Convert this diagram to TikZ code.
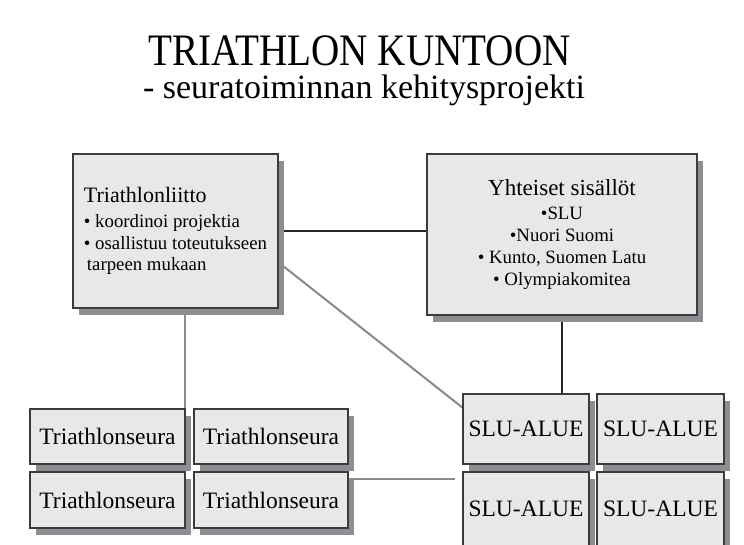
\documentclass[tikz,border=0pt]{standalone}
\usepackage{fontspec}
\usepackage{graphicx}
\setmainfont{Liberation Serif}
\usetikzlibrary{shadows,backgrounds}
\definecolor{boxfill}{HTML}{E8E8EA}
\definecolor{boxline}{HTML}{3C3C3C}
\definecolor{shadowgray}{HTML}{8E8E92}
\definecolor{graylinec}{HTML}{8A8A8A}
\begin{document}
\begin{tikzpicture}[x=1pt,y=-1pt,
  box/.style={draw=boxline, line width=1.1pt, fill=boxfill, inner sep=0pt, outer sep=0pt,
    drop shadow={shadow xshift=6pt, shadow yshift=-7pt, fill=shadowgray, opacity=1}},
  smallbox/.style={box, font=\fontsize{23.5}{27}\selectfont},
  graycon/.style={draw=graylinec, line width=2pt},
  blackcon/.style={draw=black!85, line width=2pt}]
\useasboundingbox (0,0) rectangle (744,544);

% titles
\node[anchor=base, inner sep=0pt] (title) at (359.5,65)
  {\fontsize{45}{50}\selectfont\scalebox{0.87}[1]{TRIATHLON KUNTOON}};
\node[anchor=base, inner sep=0pt] (subtitle) at (364,98)
  {\fontsize{34}{40}\selectfont - seuratoiminnan kehitysprojekti};

% main boxes
\node[box, minimum width=205, minimum height=154, align=left,
  font=\fontsize{18.8}{21.5}\selectfont] (liitto) at (175.5,231)
  {{\fontsize{22}{25}\selectfont Triathlonliitto}\\[3.5pt]
   • koordinoi projektia\\
   • osallistuu toteutukseen\\
   \hspace{3pt}tarpeen mukaan};
\node[box, minimum width=270, minimum height=161, align=center,
  font=\fontsize{18.8}{22.3}\selectfont] (yht) at (562,234.5)
  {{\fontsize{23}{26}\selectfont Yhteiset sisällöt}\\[1.7pt]
   •SLU\\
   •Nuori Suomi\\
   • Kunto, Suomen Latu\\
   • Olympiakomitea};

% clubs
\node[smallbox, minimum width=155, minimum height=55] (s11) at (107.5,436.5) {Triathlonseura};
\node[smallbox, minimum width=154, minimum height=55] (s12) at (271,436.5) {Triathlonseura};
\node[smallbox, minimum width=155, minimum height=56] (s21) at (107.5,500) {Triathlonseura};
\node[smallbox, minimum width=154, minimum height=56] (s22) at (271,500) {Triathlonseura};

% regions
\node[smallbox, minimum width=126, minimum height=70] (a11) at (526,429) {SLU-ALUE};
\node[smallbox, minimum width=127, minimum height=70] (a12) at (660.5,429) {SLU-ALUE};
\node[smallbox, minimum width=126, minimum height=74] (a21) at (526,509) {SLU-ALUE};
\node[smallbox, minimum width=127, minimum height=74] (a22) at (660.5,509) {SLU-ALUE};

% connectors (behind the boxes and their shadows)
\begin{scope}[on background layer]
  \fill[white] (0,0) rectangle (744,544);
  \draw[blackcon] (liitto.east) -- (liitto.east -| yht.west);
  \draw[blackcon] (yht.south) -- (yht.south |- a11.north);
  \draw[graycon] ([yshift=-31pt]liitto.east) -- ([yshift=21pt]a11.west);
  \draw[graycon] (liitto.south -| s11.north east) -- (s11.north east);
  \draw[graycon, shorten >=8pt] ([yshift=-7pt]s22.north east) -- ([yshift=-7pt]s22.north east -| a21.west);
\end{scope}
\end{tikzpicture}
\end{document}
